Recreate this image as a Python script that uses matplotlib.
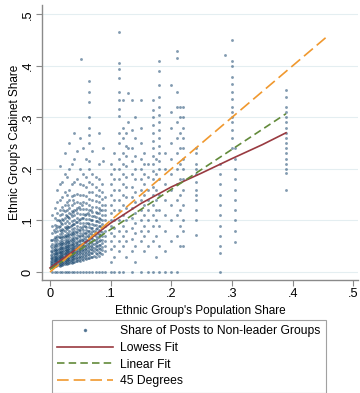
import matplotlib
matplotlib.use("Agg")
import matplotlib.pyplot as plt
from matplotlib.lines import Line2D

plt.rcParams['font.family'] = ['Liberation Sans', 'DejaVu Sans']

# ---- scatter data: population share -> observed cabinet shares ----
col_x = [0.004, 0.008, 0.012, 0.016, 0.02, 0.024, 0.028, 0.032, 0.036, 0.04,
         0.045, 0.05, 0.051, 0.055, 0.06, 0.065, 0.07, 0.075, 0.08, 0.085,
         0.088, 0.09, 0.1, 0.105, 0.114, 0.12, 0.125, 0.129, 0.135, 0.14,
         0.15, 0.155, 0.162, 0.169, 0.175, 0.18, 0.19, 0.2, 0.21, 0.215,
         0.219, 0.24, 0.28, 0.288, 0.30, 0.305, 0.389]
col_y = [
    [0.0, 0.01, 0.014, 0.018, 0.021, 0.025, 0.028, 0.032, 0.036, 0.041, 0.047, 0.055, 0.063, 0.075, 0.09, 0.11],
    [0.0, 0.012, 0.016, 0.02, 0.023, 0.026, 0.03, 0.033, 0.037, 0.04, 0.044, 0.049, 0.054, 0.06, 0.068, 0.078, 0.092, 0.105, 0.125],
    [0.0, 0.014, 0.019, 0.022, 0.025, 0.028, 0.031, 0.034, 0.037, 0.041, 0.045, 0.05, 0.056, 0.062, 0.07, 0.08, 0.09, 0.1, 0.115, 0.135, 0.16],
    [0.0, 0.011, 0.016, 0.02, 0.024, 0.027, 0.03, 0.033, 0.036, 0.039, 0.043, 0.047, 0.051, 0.056, 0.061, 0.067, 0.074, 0.082, 0.09, 0.098, 0.11, 0.12, 0.14, 0.17, 0.205],
    [0.0, 0.013, 0.018, 0.022, 0.025, 0.029, 0.032, 0.035, 0.038, 0.042, 0.046, 0.05, 0.054, 0.058, 0.063, 0.069, 0.076, 0.084, 0.093, 0.102, 0.113, 0.126, 0.145, 0.175],
    [0.0, 0.015, 0.02, 0.024, 0.027, 0.031, 0.034, 0.037, 0.041, 0.044, 0.048, 0.052, 0.057, 0.062, 0.067, 0.072, 0.079, 0.087, 0.095, 0.104, 0.118, 0.13, 0.155, 0.19, 0.23],
    [0.0, 0.016, 0.021, 0.025, 0.029, 0.033, 0.036, 0.04, 0.043, 0.047, 0.051, 0.055, 0.06, 0.065, 0.07, 0.076, 0.083, 0.09, 0.098, 0.108, 0.12, 0.135, 0.15, 0.185],
    [0.0, 0.017, 0.022, 0.026, 0.03, 0.034, 0.038, 0.042, 0.046, 0.05, 0.054, 0.058, 0.063, 0.068, 0.074, 0.08, 0.087, 0.095, 0.104, 0.114, 0.125, 0.14, 0.16, 0.2, 0.25],
    [0.0, 0.018, 0.023, 0.027, 0.031, 0.035, 0.039, 0.043, 0.047, 0.052, 0.056, 0.061, 0.066, 0.071, 0.077, 0.084, 0.091, 0.099, 0.108, 0.118, 0.13, 0.148, 0.17, 0.21],
    [0.0, 0.02, 0.025, 0.029, 0.033, 0.037, 0.041, 0.045, 0.049, 0.053, 0.058, 0.062, 0.067, 0.073, 0.079, 0.086, 0.093, 0.101, 0.11, 0.12, 0.133, 0.15, 0.175, 0.22, 0.27],
    [0.0, 0.021, 0.026, 0.03, 0.035, 0.039, 0.043, 0.047, 0.052, 0.056, 0.061, 0.066, 0.071, 0.077, 0.083, 0.09, 0.097, 0.105, 0.114, 0.124, 0.136, 0.152, 0.18, 0.235],
    [0.0, 0.022, 0.028, 0.032, 0.036, 0.041, 0.045, 0.05, 0.055, 0.06, 0.065, 0.07, 0.075, 0.081, 0.088, 0.095, 0.103, 0.112, 0.122, 0.134, 0.15, 0.17, 0.2, 0.26],
    [0.414],
    [0.0, 0.024, 0.03, 0.035, 0.04, 0.045, 0.05, 0.055, 0.06, 0.065, 0.07, 0.076, 0.082, 0.089, 0.096, 0.104, 0.113, 0.123, 0.135, 0.15, 0.168, 0.19, 0.24],
    [0.0, 0.025, 0.031, 0.037, 0.042, 0.047, 0.052, 0.058, 0.063, 0.069, 0.075, 0.081, 0.088, 0.095, 0.103, 0.112, 0.122, 0.134, 0.148, 0.165, 0.185, 0.22],
    [0.0, 0.027, 0.033, 0.039, 0.045, 0.05, 0.056, 0.062, 0.068, 0.074, 0.08, 0.087, 0.094, 0.102, 0.111, 0.12, 0.13, 0.142, 0.156, 0.175, 0.2, 0.215, 0.25, 0.265, 0.28, 0.3, 0.33, 0.35, 0.37],
    [0.0, 0.03, 0.036, 0.042, 0.048, 0.054, 0.06, 0.066, 0.072, 0.079, 0.086, 0.093, 0.1, 0.108, 0.117, 0.127, 0.14, 0.155, 0.17, 0.19, 0.235],
    [0.0, 0.03, 0.037, 0.044, 0.05, 0.057, 0.063, 0.07, 0.077, 0.084, 0.091, 0.099, 0.107, 0.116, 0.126, 0.137, 0.15, 0.165, 0.185],
    [0.0, 0.032, 0.039, 0.046, 0.053, 0.06, 0.067, 0.074, 0.081, 0.089, 0.097, 0.105, 0.114, 0.124, 0.135, 0.147, 0.16, 0.18, 0.21, 0.27],
    [0.0, 0.035, 0.042, 0.049, 0.056, 0.063, 0.07, 0.077, 0.085, 0.093, 0.101, 0.11, 0.12, 0.13, 0.142, 0.155, 0.17],
    [0.24, 0.216],
    [0.0, 0.04, 0.05, 0.06, 0.07, 0.08, 0.09, 0.1, 0.11, 0.12, 0.13, 0.145],
    [0.0, 0.02, 0.045, 0.06, 0.075, 0.09, 0.1, 0.115, 0.13, 0.15, 0.17, 0.19, 0.21],
    [0.0, 0.03, 0.05, 0.07, 0.085, 0.1, 0.12, 0.14, 0.16, 0.18, 0.2, 0.23],
    [0.0, 0.04, 0.06, 0.08, 0.1, 0.12, 0.14, 0.16, 0.18, 0.2, 0.22, 0.25, 0.27, 0.302, 0.316, 0.334, 0.35, 0.377, 0.393, 0.406, 0.466],
    [0.0, 0.05, 0.07, 0.09, 0.11, 0.13, 0.15, 0.17, 0.19, 0.21, 0.23, 0.26, 0.28, 0.334],
    [0.03, 0.06, 0.08, 0.1, 0.125, 0.145, 0.165, 0.185, 0.205, 0.225, 0.245, 0.27],
    [0.347, 0.29, 0.24],
    [0.0, 0.04, 0.065, 0.085, 0.105, 0.125, 0.145, 0.165, 0.19, 0.215, 0.24, 0.275, 0.334],
    [0.02, 0.05, 0.075, 0.095, 0.115, 0.135, 0.155, 0.18, 0.2, 0.225, 0.26, 0.3],
    [0.0, 0.06, 0.08, 0.1, 0.12, 0.14, 0.16, 0.18, 0.2, 0.22, 0.25, 0.28, 0.334],
    [0.04, 0.07, 0.09, 0.11, 0.13, 0.15, 0.17, 0.19, 0.21, 0.23],
    [0.0, 0.05, 0.08, 0.1, 0.12, 0.14, 0.16, 0.185, 0.21],
    [0.0, 0.06, 0.09, 0.11, 0.13, 0.15, 0.165, 0.18, 0.195, 0.21, 0.225, 0.24, 0.255, 0.27, 0.285, 0.3, 0.315, 0.334],
    [0.03, 0.07, 0.1, 0.12, 0.14, 0.16, 0.19, 0.22],
    [0.0, 0.05, 0.09, 0.12, 0.15, 0.18, 0.2, 0.215, 0.23, 0.245, 0.26, 0.275, 0.29, 0.305, 0.32, 0.34, 0.363, 0.389, 0.41],
    [0.0, 0.04, 0.08, 0.11, 0.14, 0.17, 0.2, 0.23],
    [0.0, 0.06, 0.1, 0.13, 0.16, 0.19, 0.22, 0.25, 0.28, 0.31, 0.363],
    [0.0, 0.07, 0.11, 0.14, 0.17, 0.2, 0.23, 0.26, 0.29, 0.32, 0.35, 0.416, 0.429],
    [0.05, 0.09, 0.12, 0.15, 0.18, 0.21, 0.24, 0.27, 0.3, 0.32],
    [0.05, 0.08, 0.1, 0.13, 0.16, 0.18, 0.2, 0.22, 0.24, 0.26, 0.28, 0.3, 0.32],
    [0.072, 0.1, 0.12, 0.14, 0.15, 0.16, 0.175, 0.19, 0.2, 0.21, 0.23, 0.24],
    [0.0, 0.037, 0.05, 0.07, 0.09, 0.11, 0.13, 0.15, 0.17, 0.19, 0.21],
    [0.42],
    [0.24, 0.26, 0.276, 0.29, 0.3, 0.31, 0.32, 0.335, 0.35, 0.365, 0.379, 0.4, 0.41, 0.45],
    [0.058, 0.08, 0.1, 0.12, 0.14, 0.16, 0.18, 0.2, 0.22, 0.24],
    [0.159, 0.192, 0.2, 0.21, 0.22, 0.23, 0.24, 0.25, 0.26, 0.27, 0.28, 0.29, 0.3, 0.31, 0.32, 0.34, 0.353],
]

# extra observations filling the dense core (small groups, small shares)
core_x = [0.002, 0.006, 0.01, 0.014, 0.018, 0.022, 0.026, 0.03, 0.034, 0.038,
          0.043, 0.048, 0.053, 0.058, 0.063, 0.068, 0.073, 0.078, 0.083]
core_y = [
    [0.009, 0.013, 0.017, 0.022, 0.027, 0.033, 0.04, 0.05, 0.062],
    [0.011, 0.015, 0.019, 0.024, 0.029, 0.035, 0.042, 0.051, 0.064, 0.082],
    [0.012, 0.016, 0.021, 0.026, 0.03, 0.036, 0.043, 0.052, 0.066, 0.085],
    [0.013, 0.018, 0.023, 0.027, 0.032, 0.038, 0.045, 0.054, 0.068, 0.088, 0.1],
    [0.014, 0.019, 0.024, 0.028, 0.033, 0.039, 0.046, 0.055, 0.066, 0.079, 0.096],
    [0.016, 0.02, 0.025, 0.03, 0.035, 0.04, 0.047, 0.056, 0.068, 0.082, 0.1, 0.12],
    [0.017, 0.022, 0.027, 0.032, 0.037, 0.043, 0.049, 0.058, 0.07, 0.085, 0.11],
    [0.018, 0.023, 0.028, 0.033, 0.038, 0.044, 0.05, 0.059, 0.071, 0.088, 0.107, 0.13],
    [0.019, 0.024, 0.029, 0.034, 0.04, 0.046, 0.053, 0.062, 0.074, 0.09, 0.112],
    [0.02, 0.026, 0.031, 0.036, 0.042, 0.048, 0.055, 0.064, 0.076, 0.094, 0.117, 0.14],
    [0.022, 0.028, 0.033, 0.038, 0.044, 0.05, 0.057, 0.066, 0.078, 0.097, 0.12],
    [0.023, 0.029, 0.035, 0.04, 0.046, 0.053, 0.06, 0.069, 0.081, 0.1, 0.126],
    [0.025, 0.031, 0.037, 0.043, 0.049, 0.055, 0.063, 0.072, 0.085, 0.104, 0.13],
    [0.027, 0.033, 0.039, 0.045, 0.051, 0.058, 0.066, 0.076, 0.09, 0.11],
    [0.028, 0.035, 0.041, 0.048, 0.055, 0.062, 0.07, 0.08, 0.095, 0.115],
    [0.03, 0.037, 0.044, 0.051, 0.058, 0.066, 0.075, 0.086, 0.1, 0.12],
    [0.032, 0.04, 0.047, 0.055, 0.063, 0.071, 0.08, 0.092, 0.108],
    [0.034, 0.042, 0.05, 0.058, 0.066, 0.075, 0.085, 0.098, 0.115],
    [0.036, 0.045, 0.053, 0.062, 0.071, 0.08, 0.09, 0.103, 0.12],
]

# ---- fitted lines ----
lowess_x = [0.0, 0.05, 0.1, 0.15, 0.2, 0.25, 0.3, 0.35, 0.389]
lowess_y = [0.008, 0.05, 0.095, 0.133, 0.165, 0.192, 0.22, 0.247, 0.27]
linear_x = [0.0, 0.389]
linear_y = [0.005, 0.307]
deg45_x = [0.0, 0.46]
deg45_y = [0.0, 0.46]

ticks = [0, 0.1, 0.2, 0.3, 0.4, 0.5]
tick_labels = ["0", ".1", ".2", ".3", ".4", ".5"]

NAVY = "#1a476f"
MAROON = "#993a40"
GREEN = "#628a3a"
ORANGE = "#f0982e"
SPINE = "#8a8a8a"

fig = plt.figure(figsize=(3.6, 3.93), dpi=100)
ax = fig.add_axes([0.117, 0.2875, 0.878, 0.70])

xs, ys = [], []
for cx, cy in ((col_x, col_y), (core_x, core_y)):
    for x, yl in zip(cx, cy):
        for y in yl:
            xs.append(x)
            ys.append(y)
ax.plot(xs, ys, linestyle="none", marker="o", markersize=1.7,
        markeredgewidth=0.25, color=NAVY, alpha=0.55, zorder=2)

ax.plot(lowess_x, lowess_y, color=MAROON, lw=1.2, zorder=3)
ax.plot(linear_x, linear_y, color=GREEN, lw=1.2, dashes=(4.5, 2.5), zorder=3)
ax.plot(deg45_x, deg45_y, color=ORANGE, lw=1.2, dashes=(7, 3), zorder=4)

ax.set_xlim(-0.013, 0.508)
ax.set_ylim(-0.0155, 0.518)
ax.set_xticks(ticks)
ax.set_xticklabels(tick_labels)
ax.set_yticks(ticks)
ax.set_yticklabels(tick_labels, rotation=90, va="center")
ax.tick_params(axis="both", direction="out", length=4, width=0.8,
               color=SPINE, labelsize=9.2, pad=2)
ax.grid(axis="y", color="#e4eef1", lw=0.8, zorder=0)
ax.set_axisbelow(True)
for s in ["top", "right"]:
    ax.spines[s].set_visible(False)
for s in ["left", "bottom"]:
    ax.spines[s].set_color(SPINE)
    ax.spines[s].set_linewidth(1.0)

ax.set_xlabel("Ethnic Group's Population Share", fontsize=8.5, labelpad=3)
ax.set_ylabel("Ethnic Group's Cabinet Share", fontsize=8.5)
ax.yaxis.set_label_coords(-0.068, 0.5)

handles = [
    Line2D([], [], linestyle="none", marker="o", markersize=1.5, color=NAVY, alpha=0.6),
    Line2D([], [], color=MAROON, lw=1.2),
    Line2D([], [], color=GREEN, lw=1.2, dashes=(4.5, 2.5)),
    Line2D([], [], color=ORANGE, lw=1.2, dashes=(7, 3)),
]
labels = ["Share of Posts to Non-leader Groups", "Lowess Fit", "Linear Fit", "45 Degrees"]
leg = fig.legend(handles, labels, loc="upper left",
                 bbox_to_anchor=(52 / 360, 1 - 320 / 393),
                 bbox_transform=fig.transFigure,
                 fontsize=8.7, frameon=True, fancybox=False,
                 handlelength=4.6, handletextpad=0.6, borderpad=0.45,
                 labelspacing=0.38, borderaxespad=0)
leg.get_frame().set_edgecolor("#8a8a8a")
leg.get_frame().set_linewidth(0.8)

fig.savefig("out.png", dpi=100)
